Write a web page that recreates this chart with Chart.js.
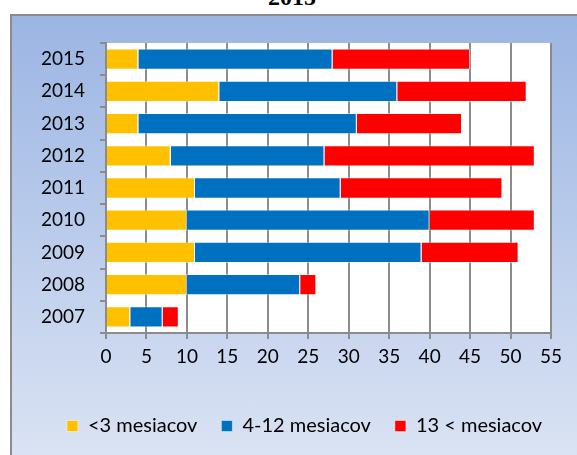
<!DOCTYPE html>
<html>
<head>
<meta charset="utf-8">
<script src="https://cdn.jsdelivr.net/npm/chart.js@4"></script>
<style>
  body { margin: 0; width: 577px; height: 455px; overflow: hidden; background: #fff; position: relative; }
  #title { position: absolute; left: 0; width: 584px; top: -15px; text-align: center;
           font: bold 24px/24px "Liberation Serif", serif; color: #000; }
  #box { position: absolute; left: 10px; top: 14px; width: 620px; height: 460px;
         border: 2px solid #8c8c8c; background: linear-gradient(#9bb5e3, #dde5f4); }
  canvas { position: absolute; left: 0; top: 0; }
</style>
</head>
<body>
<div id="title">2015</div>
<div id="box"></div>
<canvas id="chart" width="577" height="460"></canvas>
<script>
const years = ["2015", "2014", "2013", "2012", "2011", "2010", "2009", "2008", "2007"];
const under3 = [4, 14, 4, 8, 11, 10, 11, 10, 3];
const from4to12 = [24, 22, 27, 19, 18, 30, 28, 14, 4];
const over13 = [17, 16, 13, 26, 20, 13, 12, 2, 2];
const seriesNames = ["<3 mesiacov", "4-12 mesiacov", "13 < mesiacov"];
const seriesColors = ["#ffc000", "#0070c0", "#ff0000"];

const gridGray = "#8c8c8c";
const fontFamily = "Lato, 'Open Sans', sans-serif";

const plotBackground = {
  id: "plotBackground",
  beforeDraw(chart) {
    const { ctx, chartArea } = chart;
    ctx.save();
    ctx.fillStyle = "#ffffff";
    ctx.fillRect(chartArea.left, chartArea.top, chartArea.right - chartArea.left, chartArea.bottom - chartArea.top);
    ctx.restore();
  }
};

// the original legend is centred on the whole (wider) chart box, not on the plot
const legendShift = {
  id: "legendShift",
  afterLayout(chart) {
    chart.legend.left += 29;
    chart.legend.right += 29;
  }
};

function makeDataset(i, values) {
  return {
    label: seriesNames[i],
    data: values,
    backgroundColor: seriesColors[i],
    borderColor: "rgba(255,255,255,0.45)",
    borderWidth: 1,
    barPercentage: 0.66,
    categoryPercentage: 1
  };
}

new Chart(document.getElementById("chart"), {
  type: "bar",
  data: {
    labels: years,
    datasets: [
      makeDataset(0, under3),
      makeDataset(1, from4to12),
      makeDataset(2, over13)
    ]
  },
  options: {
    indexAxis: "y",
    responsive: false,
    animation: false,
    layout: { padding: { top: 43, right: 26, bottom: 14, left: 0 } },
    plugins: {
      title: { display: false },
      tooltip: { enabled: false },
      legend: {
        position: "bottom",
        labels: {
          boxWidth: 11,
          boxHeight: 11,
          padding: 24,
          color: "#000",
          font: { family: fontFamily, size: 20 }
        }
      }
    },
    scales: {
      x: {
        stacked: true,
        min: 0,
        max: 55,
        ticks: { stepSize: 5, color: "#000", padding: 6, font: { family: fontFamily, size: 19 } },
        grid: { color: gridGray, lineWidth: 2, tickLength: 6, tickColor: gridGray },
        border: { color: gridGray, width: 2 },
        afterFit(scale) { scale.height = 59; }
      },
      y: {
        stacked: true,
        ticks: { color: "#000", padding: 15, font: { family: fontFamily, size: 19 } },
        grid: { offset: true, drawOnChartArea: false, color: gridGray, lineWidth: 2, tickLength: 6, tickColor: gridGray },
        border: { color: gridGray, width: 2 },
        afterFit(scale) { scale.width = 106; }
      }
    }
  },
  plugins: [plotBackground, legendShift]
});
</script>
</body>
</html>
